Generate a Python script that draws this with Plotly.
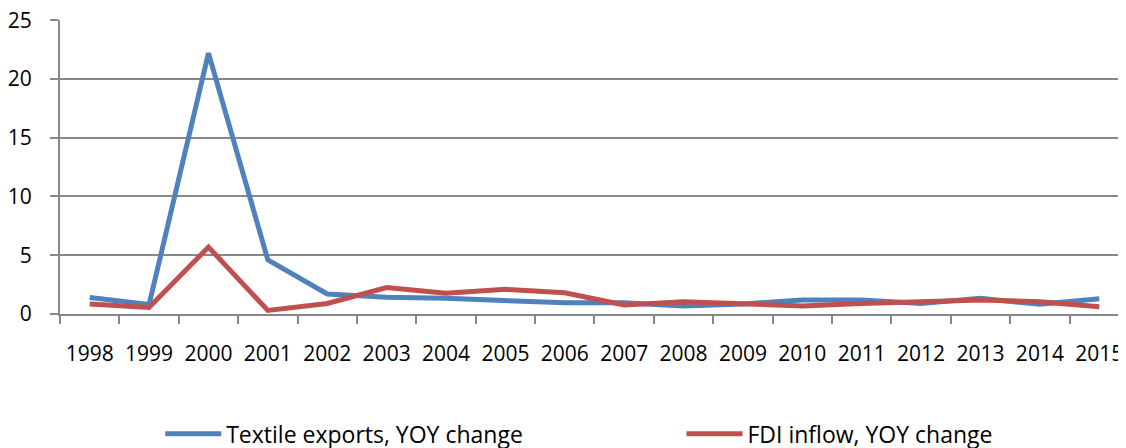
import plotly.graph_objects as go

years = [str(y) for y in range(1998, 2016)]
textile = [1.4, 0.8, 22.2, 4.6, 1.7, 1.42, 1.33, 1.1, 0.96, 0.96, 0.68, 0.85,
           1.19, 1.19, 0.9, 1.33, 0.82, 1.3]
fdi = [0.85, 0.55, 5.7, 0.3, 0.9, 2.25, 1.76, 2.1, 1.8, 0.77, 1.05, 0.82,
       0.68, 0.9, 1.0, 1.19, 1.05, 0.62]

fig = go.Figure()
fig.add_trace(go.Scatter(x=years, y=textile, mode="lines", name="Textile exports, YOY change",
                         line=dict(color="#4F81BD", width=5), legend="legend"))
fig.add_trace(go.Scatter(x=years, y=fdi, mode="lines", name="FDI inflow, YOY change",
                         line=dict(color="#C0504D", width=5), legend="legend2"))

grid = "#888888"
# page body has an 8px margin, so the figure is a bit smaller than the window
fig.update_layout(
    width=1118, height=440,
    margin=dict(l=52, r=0, t=12, b=134, autoexpand=False),
    paper_bgcolor="white", plot_bgcolor="white",
    font=dict(family="Open Sans, sans-serif", size=21, color="black"),
    showlegend=True,
    legend=dict(orientation="h", x=0.094, xanchor="left", yref="container", y=0.032,
                yanchor="middle", itemwidth=56, font=dict(size=23)),
    legend2=dict(orientation="h", x=0.583, xanchor="left", yref="container", y=0.032,
                 yanchor="middle", itemwidth=56, font=dict(size=23)),
)
fig.update_xaxes(type="category", range=[-0.5, 17.45], tickson="boundaries",
                 ticks="outside", ticklen=8, tickcolor=grid, tickwidth=2,
                 showline=True, linecolor=grid, linewidth=2, showgrid=False,
                 tickangle=0, ticklabelstandoff=20, ticklabeloverflow="allow")
fig.update_yaxes(range=[0, 25.02], tickvals=[0, 5, 10, 15, 20, 25], showgrid=True,
                 gridcolor=grid, gridwidth=2,
                 showline=True, linecolor=grid, linewidth=2, ticks="outside",
                 ticklen=8, tickcolor=grid, tickwidth=2, zeroline=False,
                 ticklabelstandoff=14, ticklabeloverflow="allow")

fig.write_html("out.html")
